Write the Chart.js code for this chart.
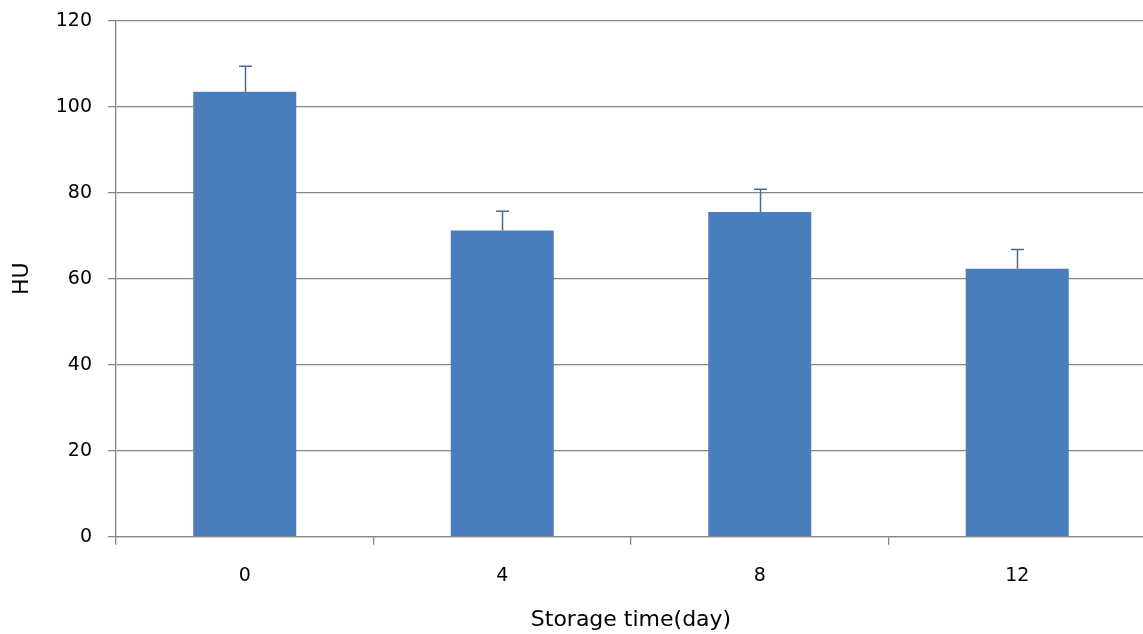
<!DOCTYPE html>
<html>
<head>
<meta charset="utf-8">
<style>
  html, body { margin: 0; padding: 0; background: #fff; overflow: hidden; }
  #wrap { position: relative; width: 1160px; height: 634px; }
</style>
<script src="https://cdn.jsdelivr.net/npm/chart.js@4.4.1/dist/chart.umd.min.js"></script>
</head>
<body>
<div id="wrap"><canvas id="chart"></canvas></div>
<script>
// Storage days and mean HU with standard deviation
const days = ['0', '4', '8', '12'];
const huMean = [103.5, 71.2, 75.5, 62.3];
const huSd = [5.9, 4.5, 5.3, 4.5];
const yTicks = [0, 20, 40, 60, 80, 100, 120];

const gridGray = '#868686';
const barBlue = '#4a7dbb';
const errColor = '#4b6a8e';
const textColor = '#000000';

// Upward error bars with a short cap, placed through the chart scales
const errorBars = {
  id: 'errorBars',
  afterDatasetsDraw(chart) {
    const meta = chart.getDatasetMeta(0);
    const y = chart.scales.y;
    const ctx = chart.ctx;
    ctx.save();
    ctx.strokeStyle = errColor;
    ctx.lineWidth = 1.5;
    meta.data.forEach((bar, i) => {
      const x = Math.round(bar.x) + 0.5;
      const yBase = y.getPixelForValue(huMean[i]);
      const yTop = y.getPixelForValue(huMean[i] + huSd[i]);
      ctx.beginPath();
      ctx.moveTo(x, yBase);
      ctx.lineTo(x, yTop);
      ctx.moveTo(x - 6.5, yTop);
      ctx.lineTo(x + 6.5, yTop);
      ctx.stroke();
    });
    ctx.restore();
  }
};

Chart.defaults.font.family = '"DejaVu Sans", sans-serif';
Chart.defaults.color = textColor;

new Chart(document.getElementById('chart'), {
  type: 'bar',
  data: {
    labels: days,
    datasets: [{
      data: huMean,
      backgroundColor: barBlue,
      borderWidth: 0,
      barPercentage: 0.4,
      categoryPercentage: 1.0
    }]
  },
  options: {
    responsive: true,
    maintainAspectRatio: false,
    animation: false,
    devicePixelRatio: 1,
    layout: { padding: { top: 20.7, right: 14, bottom: 0, left: 0 } },
    plugins: { legend: { display: false }, tooltip: { enabled: false } },
    scales: {
      x: {
        grid: {
          offset: true,
          drawOnChartArea: false,
          drawTicks: true,
          tickLength: 8,
          color: gridGray,
          lineWidth: 1.3
        },
        border: { display: true, color: gridGray, width: 1.3 },
        ticks: { padding: 20, font: { size: 19 }, color: textColor, maxRotation: 0 },
        title: {
          display: true,
          text: 'Storage time(day)',
          font: { size: 22 },
          color: textColor,
          padding: { top: 4, bottom: 1 }
        },
        afterFit(scale) {
          scale.height = 97.3;
          scale.paddingLeft = 0;
          scale.paddingRight = 0;
        }
      },
      y: {
        min: 0,
        max: 120,
        afterBuildTicks(scale) { scale.ticks = yTicks.map(v => ({ value: v })); },
        grid: {
          drawOnChartArea: true,
          drawTicks: true,
          tickLength: 8,
          color: gridGray,
          lineWidth: 1.3
        },
        border: { display: true, color: gridGray, width: 1.3 },
        ticks: { padding: 16, font: { size: 19 }, color: textColor },
        title: {
          display: true,
          text: 'HU',
          font: { size: 22 },
          color: textColor,
          padding: { top: 9, bottom: 4 }
        },
        afterFit(scale) {
          scale.width = 116;
          scale.paddingTop = 0;
          scale.paddingBottom = 0;
        }
      }
    }
  },
  plugins: [errorBars]
});
</script>
</body>
</html>
